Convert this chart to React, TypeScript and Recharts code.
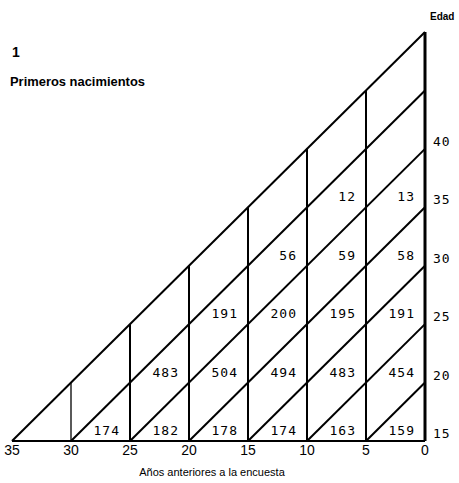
import React from "react";
import {
  ScatterChart,
  Scatter,
  XAxis,
  YAxis,
  ReferenceLine,
} from "recharts";

// años anteriores a la encuesta (eje horizontal, de izquierda a derecha)
const years = [35, 30, 25, 20, 15, 10, 5, 0];
// edad al inicio de cada cohorte (eje derecho)
const ageTicks = [15, 20, 25, 30, 35, 40];
const ageMin = 15;
const ageMax = 50;

// primeros nacimientos por grupo de edad; cada fila termina en la columna 5-0
const ageGroups = [15, 20, 25, 30, 35];
const births15 = [174, 182, 178, 174, 163, 159];
const births20 = [483, 504, 494, 483, 454];
const births25 = [191, 200, 195, 191];
const births30 = [56, 59, 58];
const births35 = [12, 13];
const birthsByGroup = [births15, births20, births25, births30, births35];

const cohortStarts = years.filter((y) => y > 0);
const innerYears = years.filter((y) => y > 0 && y < 35);

const cells = birthsByGroup.flatMap((row, g) =>
  row.map((v, i) => ({
    x: (row.length - 1 - i) * 5,
    y: ageGroups[g],
    v,
  }))
);

const mono = "'DejaVu Sans Mono', monospace";
const sans = "'Liberation Sans', Arial, sans-serif";

const CellLabel = (props: any) => {
  const { cx, cy, payload } = props;
  return (
    <text
      x={cx - 10}
      y={cy - 6}
      textAnchor="end"
      fontFamily={mono}
      fontSize={13}
      letterSpacing={1}
      fill="#000"
    >
      {payload.v}
    </text>
  );
};

const AgeTick = (props: any) => {
  const { x, y, payload } = props;
  return (
    <text
      x={x}
      y={y - 3}
      textAnchor="start"
      fontFamily={mono}
      fontSize={13}
      letterSpacing={1}
      fill="#000"
    >
      {payload.value}
    </text>
  );
};

export default function App() {
  return (
    <div
      style={{
        position: "absolute",
        left: 0,
        top: 0,
        width: 459,
        height: 483,
        background: "#fff",
      }}
    >
      <ScatterChart
        width={459}
        height={483}
        margin={{ top: 32, right: 0, left: 12, bottom: 12 }}
      >
        <XAxis
          type="number"
          dataKey="x"
          domain={[0, 35]}
          reversed
          ticks={years}
          interval={0}
          tickLine={false}
          tickSize={3}
          tickMargin={1}
          axisLine={{ stroke: "#000", strokeWidth: 2 }}
          tick={{ fill: "#000", fontSize: 14, fontFamily: sans }}
        />
        <YAxis
          type="number"
          dataKey="y"
          orientation="right"
          domain={[ageMin, ageMax]}
          ticks={ageTicks}
          interval={0}
          width={34}
          tickLine={false}
          axisLine={{ stroke: "#000", strokeWidth: 3 }}
          tick={<AgeTick />}
        />
        {cohortStarts.map((s) => (
          <ReferenceLine
            key={`d${s}`}
            segment={[
              { x: s, y: ageMin },
              { x: 0, y: ageMin + s },
            ]}
            stroke="#000"
            strokeWidth={2}
            ifOverflow="visible"
          />
        ))}
        {innerYears.map((v) => (
          <ReferenceLine
            key={`v${v}`}
            segment={[
              { x: v, y: ageMin },
              { x: v, y: ageMax - v },
            ]}
            stroke="#000"
            strokeWidth={v === 30 ? 1.3 : 2}
            ifOverflow="visible"
          />
        ))}
        <Scatter
          data={cells}
          isAnimationActive={false}
          shape={(p: any) => <CellLabel {...p} />}
        />
      </ScatterChart>
      <svg
        width={459}
        height={483}
        style={{ position: "absolute", left: 0, top: 0, pointerEvents: "none" }}
      >
        <text x={12} y={57} fontFamily={sans} fontWeight="bold" fontSize={14} fill="#000">
          1
        </text>
        <text
          x={10}
          y={86}
          fontFamily={sans}
          fontWeight="bold"
          fontSize={12.5}
          textLength={135}
          lengthAdjust="spacingAndGlyphs"
          fill="#000"
        >
          Primeros nacimientos
        </text>
        <text x={430} y={20} fontFamily={sans} fontWeight="bold" fontSize={10} fill="#000">
          Edad
        </text>
        <text
          x={212}
          y={476}
          textAnchor="middle"
          fontFamily={sans}
          fontSize={11}
          fill="#000"
        >
          Años anteriores a la encuesta
        </text>
      </svg>
    </div>
  );
}
